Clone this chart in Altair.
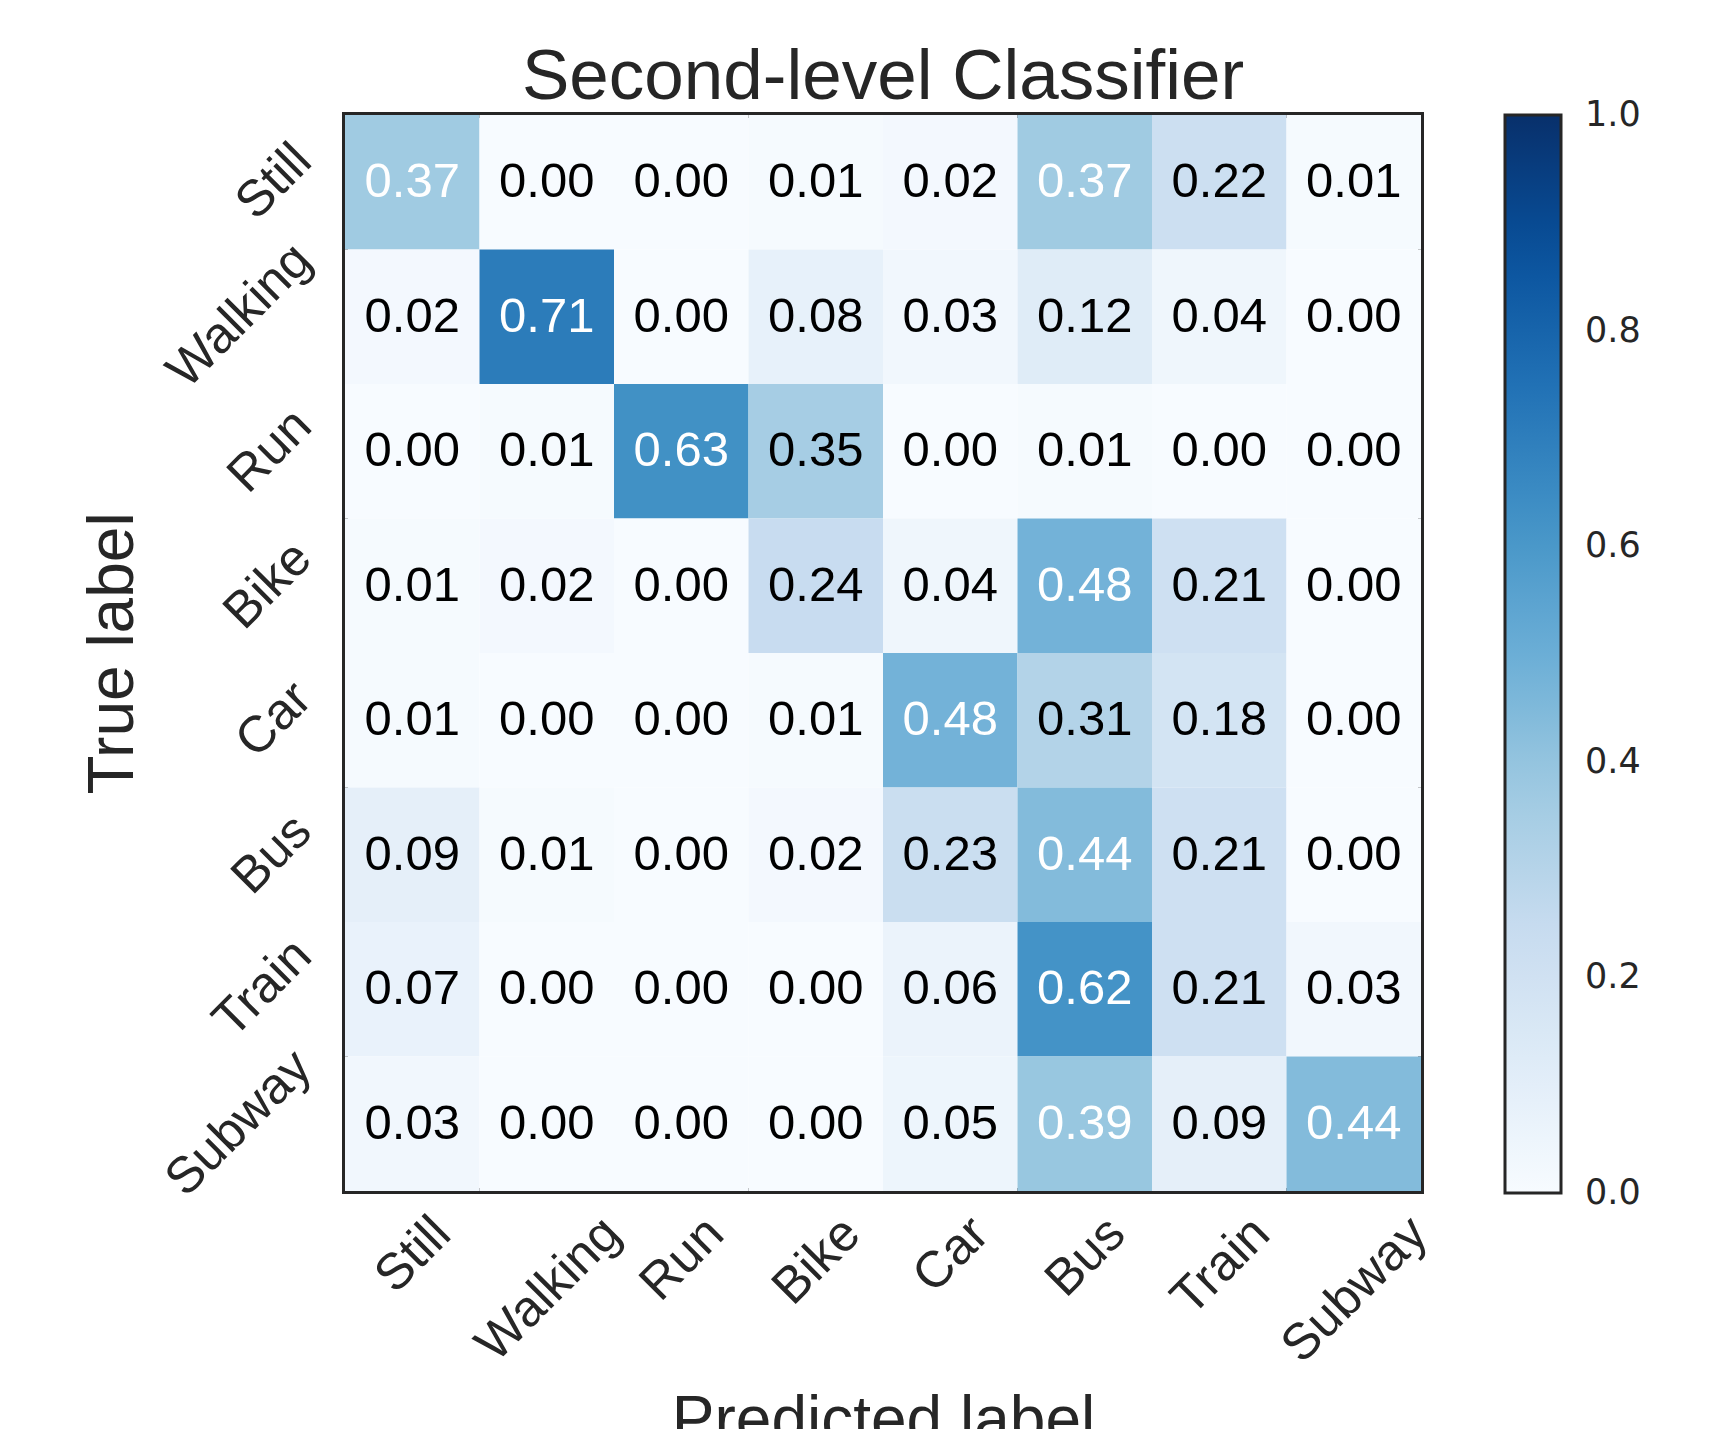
import altair as alt
import pandas as pd

classes = ["Still", "Walking", "Run", "Bike", "Car", "Bus", "Train", "Subway"]

row_still = [0.37, 0.00, 0.00, 0.01, 0.02, 0.37, 0.22, 0.01]
row_walking = [0.02, 0.71, 0.00, 0.08, 0.03, 0.12, 0.04, 0.00]
row_run = [0.00, 0.01, 0.63, 0.35, 0.00, 0.01, 0.00, 0.00]
row_bike = [0.01, 0.02, 0.00, 0.24, 0.04, 0.48, 0.21, 0.00]
row_car = [0.01, 0.00, 0.00, 0.01, 0.48, 0.31, 0.18, 0.00]
row_bus = [0.09, 0.01, 0.00, 0.02, 0.23, 0.44, 0.21, 0.00]
row_train = [0.07, 0.00, 0.00, 0.00, 0.06, 0.62, 0.21, 0.03]
row_subway = [0.03, 0.00, 0.00, 0.00, 0.05, 0.39, 0.09, 0.44]

matrix = [row_still, row_walking, row_run, row_bike, row_car, row_bus, row_train, row_subway]

# colorbar ticks 0.0 ... 1.0 (end ticks nudged a hair inside so that
# their labels are centred on the bar ends, like matplotlib's colorbar)
colorbar_ticks = [0.0001, 0.2, 0.4, 0.6, 0.8, 0.9999]

# matplotlib "Blues" (ColorBrewer 9-class) control colours
blues = ["#f7fbff", "#deebf7", "#c6dbef", "#9ecae1", "#6baed6",
         "#4292c6", "#2171b5", "#08519c", "#08306b"]
stops = [i / 8 for i in range(9)]

records = []
for t, row in zip(classes, matrix):
    for p, v in zip(classes, row):
        records.append({"true": t, "pred": p, "value": v, "label": f"{v:.2f}"})
df = pd.DataFrame(records)

thresh = max(max(r) for r in matrix) / 2.0

FONT = "Liberation Sans"
TICK_FS = 51
TEXT_COLOR = "#262626"

# Arial / Liberation Sans advance widths (em) for label glyphs
ADV = {"S": .667, "t": .278, "i": .222, "l": .222, "W": .944, "a": .556,
       "k": .5, "n": .556, "g": .556, "R": .722, "u": .556, "B": .667,
       "e": .556, "C": .722, "r": .333, "s": .5, "T": .611, "b": .556,
       "w": .722, "y": .5}


def text_len(s, fs):
    return sum(ADV.get(c, 0.55) for c in s) * fs


def offset_expr(fn):
    parts = [f"datum.value === '{c}' ? {fn(c):.1f}" for c in classes]
    return " : ".join(parts) + " : 0"


# center the rotated label box on its tick, like matplotlib
x_off = offset_expr(lambda c: 0.3536 * (text_len(c, TICK_FS) - TICK_FS * 0.9))
y_off = offset_expr(lambda c: -0.3536 * text_len(c, TICK_FS))

W = 1076
H = 1076

x_axis = alt.Axis(
    labelAngle=315, labelAlign="right", labelBaseline="top", labelPadding=17,
    labelOffset={"expr": x_off}, labelFont=FONT, labelFontSize=TICK_FS,
    labelColor=TEXT_COLOR, labelOverlap=False, labelLimit=600, labelFlush=False,
    ticks=False, domain=False, grid=False,
    titleFont=FONT, titleFontSize=64, titleFontWeight="normal", titleColor=TEXT_COLOR,
    titleX=W / 2, titleY=249, titleAlign="center", titleBaseline="alphabetic",
)
y_axis = alt.Axis(
    labelAngle=315, labelAlign="right", labelBaseline="middle", labelPadding=42,
    labelOffset={"expr": y_off}, labelFont=FONT, labelFontSize=TICK_FS,
    labelColor=TEXT_COLOR, labelOverlap=False, labelLimit=600, labelFlush=False,
    ticks=False, domain=False, grid=False,
    titleFont=FONT, titleFontSize=64, titleFontWeight="normal", titleColor=TEXT_COLOR,
    titleAngle=270, titleX=-213, titleY=H / 2, titleAlign="center",
    titleBaseline="alphabetic",
)

band = alt.Scale(paddingInner=0, paddingOuter=0)

base = alt.Chart(df).encode(
    x=alt.X("pred:N", sort=classes, scale=band, axis=x_axis, title="Predicted label"),
    y=alt.Y("true:N", sort=classes, scale=band, axis=y_axis, title="True label"),
)

rects = base.mark_rect().encode(
    color=alt.Color(
        "value:Q",
        scale=alt.Scale(domain=stops, range=blues, interpolate="rgb"),
        legend=alt.Legend(
            orient="none", legendX=1160, legendY=0, direction="vertical",
            gradientLength=H + 2, gradientThickness=56, title=None,
            values=colorbar_ticks, format=".1f",
            labelFont="DejaVu Sans", labelFontSize=35, labelColor=TEXT_COLOR,
            labelOffset=24, labelOverlap=False,
            gradientStrokeColor="#262626", gradientStrokeWidth=3, padding=0,
        ),
    ),
)

texts = base.mark_text(font=FONT, fontSize=49, baseline="middle", align="center").encode(
    text="label:N",
    color=alt.condition(alt.datum.value > thresh, alt.value("white"), alt.value("black")),
)

chart = alt.layer(rects, texts).properties(
    width=W,
    height=H,
    title=alt.Title(
        "Second-level Classifier", font=FONT, fontSize=71, fontWeight="normal",
        color=TEXT_COLOR, anchor="middle", baseline="alphabetic", offset=2, dy=57,
    ),
    autosize=alt.AutoSizeParams(type="none"),
    padding={"left": 337, "top": 107, "right": 285, "bottom": 238},
).configure_view(stroke="#262626", strokeWidth=6)

chart.save("out.html", embed_options={"renderer": "svg", "actions": False})
